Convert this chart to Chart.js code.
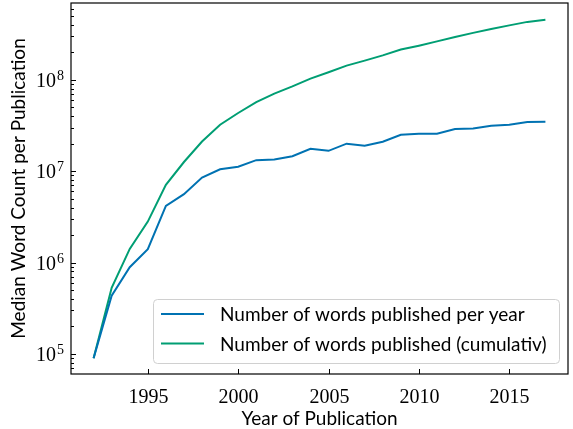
<!DOCTYPE html>
<html>
<head>
<meta charset="utf-8">
<script src="https://cdn.jsdelivr.net/npm/chart.js@4.4.0/dist/chart.umd.min.js"></script>
<style>
    body { margin: 0; background: #fff; }
    #wrap { width: 573px; height: 429px; position: relative; }
</style>
</head>
<body>
<div id="wrap"><canvas id="chart"></canvas></div>
<script>
// values
const years = [1992, 1993, 1994, 1995, 1996, 1997, 1998, 1999, 2000, 2001, 2002, 2003, 2004,
    2005, 2006, 2007, 2008, 2009, 2010, 2011, 2012, 2013, 2014, 2015, 2016, 2017];
const wordsPerYear = [9.0e4, 4.35e5, 8.9e5, 1.40e6, 4.18e6, 5.6e6, 8.5e6, 1.05e7, 1.12e7, 1.32e7,
    1.34e7, 1.46e7, 1.76e7, 1.67e7, 2.0e7, 1.90e7, 2.10e7, 2.50e7, 2.57e7, 2.57e7,
    2.89e7, 2.94e7, 3.14e7, 3.22e7, 3.45e7, 3.48e7];
const wordsCumulative = [9.0e4, 5.3e5, 1.41e6, 2.81e6, 7.1e6, 1.26e7, 2.11e7, 3.22e7, 4.33e7, 5.71e7,
    7.05e7, 8.47e7, 1.03e8, 1.21e8, 1.43e8, 1.62e8, 1.85e8, 2.14e8, 2.36e8, 2.63e8,
    2.94e8, 3.26e8, 3.60e8, 3.94e8, 4.30e8, 4.55e8];
const seriesLabels = ['Number of words published per year', 'Number of words published (cumulativ)'];
const xTickYears = [1995, 2000, 2005, 2010, 2015];
const yTickExponents = [5, 6, 7, 8];

const BLUE = '#0072B2';
const GREEN = '#009E73';
const SERIF = '"Liberation Serif", "DejaVu Serif", serif';
const SANS = 'Lato, "DejaVu Sans", sans-serif';

function punkte(werte) {
    return years.map((ano, i) => ({ x: ano, y: werte[i] }));
}

// matplotlib-like axes: inward ticks, frame, labels and legend
const eixos = {
    id: 'eixos',
    afterDraw(chart) {
        const ctx = chart.ctx;
        const area = chart.chartArea;
        const xs = chart.scales.x;
        const ys = chart.scales.y;
        ctx.save();
        ctx.strokeStyle = '#000';
        ctx.fillStyle = '#000';
        ctx.lineWidth = 1;

        // x ticks
        ctx.font = '20px ' + SERIF;
        ctx.textAlign = 'center';
        ctx.textBaseline = 'alphabetic';
        for (let ano of xTickYears) {
            const px = Math.round(xs.getPixelForValue(ano)) + 0.5;
            ctx.beginPath();
            ctx.moveTo(px, area.bottom);
            ctx.lineTo(px, area.bottom - 5);
            ctx.stroke();
            ctx.fillText(String(ano), px, 403);
        }

        // y ticks (major + minor)
        for (let e = 4; e <= 9; e++) {
            for (let k = 1; k <= 9; k++) {
                const v = k * Math.pow(10, e);
                if (v < ys.min || v > ys.max) continue;
                const py = Math.round(ys.getPixelForValue(v)) + 0.5;
                ctx.beginPath();
                ctx.moveTo(area.left, py);
                ctx.lineTo(area.left + (k === 1 ? 5 : 3), py);
                ctx.stroke();
            }
        }
        for (let e of yTickExponents) {
            const py = ys.getPixelForValue(Math.pow(10, e));
            ctx.font = '20px ' + SERIF;
            const w10 = ctx.measureText('10').width;
            ctx.font = '14px ' + SERIF;
            const wExp = ctx.measureText(String(e)).width;
            const x0 = 63 - w10 - wExp;
            ctx.textAlign = 'left';
            ctx.font = '20px ' + SERIF;
            ctx.fillText('10', x0, py + 7);
            ctx.font = '14px ' + SERIF;
            ctx.fillText(String(e), x0 + w10 + 1, py);
        }

        // frame
        ctx.lineWidth = 1.2;
        ctx.strokeRect(area.left, area.top, area.right - area.left, area.bottom - area.top);

        // axis titles
        ctx.font = '19px ' + SANS;
        ctx.textAlign = 'center';
        ctx.fillText('Year of Publication', (area.left + area.right) / 2, 425);
        ctx.save();
        ctx.translate(25, (area.top + area.bottom) / 2);
        ctx.rotate(-Math.PI / 2);
        ctx.fillText('Median Word Count per Publication', 0, 0);
        ctx.restore();

        // legend
        const lx = 153.5, ly = 299.5, lw = 406, lh = 64;
        ctx.beginPath();
        ctx.roundRect(lx, ly, lw, lh, 4);
        ctx.fillStyle = 'rgba(255,255,255,0.8)';
        ctx.fill();
        ctx.strokeStyle = '#d0d0d0';
        ctx.lineWidth = 1;
        ctx.stroke();
        const cores = [BLUE, GREEN];
        const linhasY = [314, 343.5];
        ctx.font = '19px ' + SANS;
        ctx.textAlign = 'left';
        ctx.textBaseline = 'middle';
        chart.data.datasets.forEach((ds, i) => {
            ctx.strokeStyle = cores[i];
            ctx.lineWidth = 2;
            ctx.beginPath();
            ctx.moveTo(161, linhasY[i]);
            ctx.lineTo(204, linhasY[i]);
            ctx.stroke();
            ctx.fillStyle = '#000';
            ctx.fillText(ds.label, 220, linhasY[i] + 1);
        });
        ctx.restore();
    }
};

new Chart(document.getElementById('chart'), {
    type: 'line',
    data: {
        datasets: [{
            label: seriesLabels[0],
            data: punkte(wordsPerYear),
            borderColor: BLUE,
            borderWidth: 2,
            pointRadius: 0,
            tension: 0,
            fill: false
        }, {
            label: seriesLabels[1],
            data: punkte(wordsCumulative),
            borderColor: GREEN,
            borderWidth: 2,
            pointRadius: 0,
            tension: 0,
            fill: false
        }]
    },
    options: {
        responsive: true,
        maintainAspectRatio: false,
        animation: false,
        layout: { padding: { left: 71, top: 3, right: 5, bottom: 55 } },
        plugins: { legend: { display: false }, tooltip: { enabled: false } },
        scales: {
            x: { type: 'linear', min: 1990.75, max: 2018.25, display: false },
            y: { type: 'logarithmic', min: 6.04e4, max: 6.92e8, display: false }
        }
    },
    plugins: [eixos]
});
</script>
</body>
</html>
